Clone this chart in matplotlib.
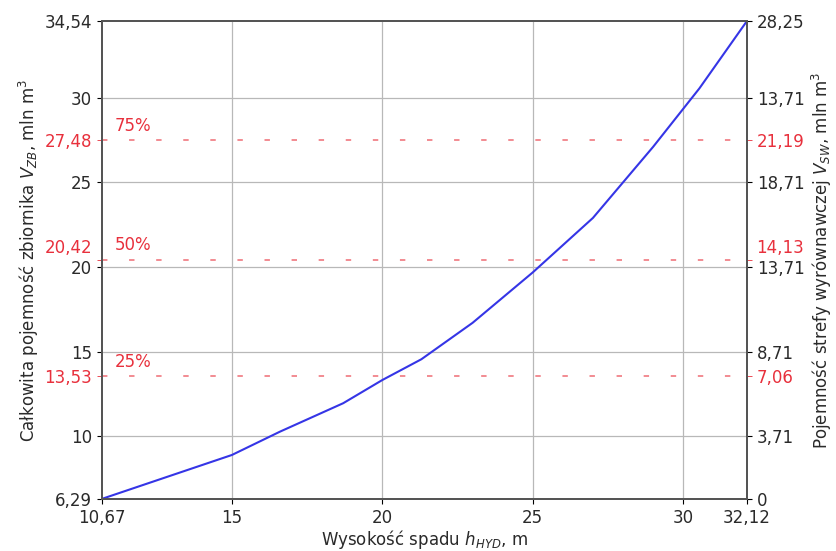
import matplotlib
matplotlib.use("Agg")
import matplotlib.pyplot as plt
import matplotlib.transforms as mtransforms

# Curve: head vs. total reservoir volume
h_hyd = [10.67, 15.0, 16.6, 18.7, 20.0, 21.3, 23.0, 25.0, 27.0, 29.0, 30.54, 32.12]
v_zb = [6.29, 8.89, 10.27, 11.95, 13.32, 14.55, 16.7, 19.68, 22.9, 27.1, 30.56, 34.54]

# Axis ticks
x_ticks = [10.67, 15, 20, 25, 30, 32.12]
x_labels = ["10,67", "15", "20", "25", "30", "32,12"]
y_ticks = [6.29, 10, 15, 20, 25, 30, 34.54]
y_labels = ["6,29", "10", "15", "20", "25", "30", "34,54"]
y_right_labels = ["0", "3,71", "8,71", "13,71", "18,71", "13,71", "28,25"]

# Percentage levels
pct_values = [13.53, 20.42, 27.48]
pct_left_labels = ["13,53", "20,42", "27,48"]
pct_right_labels = ["7,06", "14,13", "21,19"]
pct_names = ["25%", "50%", "75%"]

RED = "#e8303c"
TXT = "#2a2a2a"
FS = 12

plt.rcParams["text.color"] = TXT
plt.rcParams["xtick.labelcolor"] = TXT
plt.rcParams["ytick.labelcolor"] = TXT
plt.rcParams["axes.labelcolor"] = TXT

fig = plt.figure(figsize=(8.36, 5.51), dpi=100)
ax = fig.add_axes([0.1215, 0.0944, 0.772, 0.8675])

ax.plot(h_hyd, v_zb, color="#3535e6", lw=1.5, zorder=3)

for v in pct_values:
    ax.axhline(v, color=RED, lw=1.3, alpha=0.6, dashes=(3, 12), zorder=2)

ax.set_xlim(10.67, 32.12)
ax.set_ylim(6.29, 34.54)

ax.set_xticks(x_ticks)
ax.set_xticklabels(x_labels, fontsize=FS)
ax.set_yticks(y_ticks)
ax.set_yticklabels(y_labels, fontsize=FS)
ax.set_yticks(pct_values, minor=True)
ax.set_yticklabels(pct_left_labels, minor=True, fontsize=FS, color=RED)
ax.tick_params(axis="y", which="minor", length=3.5, color=RED)

# gridlines only on the inner ticks
for x in x_ticks[1:-1]:
    ax.axvline(x, color="#b8b8b8", lw=0.9, zorder=1)
for y in y_ticks[1:-1]:
    ax.axhline(y, color="#b8b8b8", lw=0.9, zorder=1)

for s in ax.spines.values():
    s.set_color("#555555")
    s.set_linewidth(1.4)

ax.set_xlabel("Wysokość spadu $h_{HYD}$, m", fontsize=FS, labelpad=1)
ax.set_ylabel("Całkowita pojemność zbiornika $V_{ZB}$, mln m$^3$", fontsize=FS, labelpad=2)

for v, name in zip(pct_values, pct_names):
    ax.annotate(name, xy=(11.1, v), xytext=(0, 4), textcoords="offset points",
                color=RED, fontsize=FS, va="bottom", ha="left")

ax2 = ax.twinx()
ax2.set_ylim(ax.get_ylim())
ax2.set_yticks(y_ticks)
ax2.set_yticklabels(y_right_labels, fontsize=FS)
ax2.set_yticks(pct_values, minor=True)
ax2.set_yticklabels(pct_right_labels, minor=True, fontsize=FS, color=RED)
ax2.tick_params(axis="y", which="minor", length=3.5, color=RED)
ax2.set_ylabel("Pojemność strefy wyrównawczej $V_{SW}$, mln m$^3$", fontsize=FS, labelpad=4)
for s in ax2.spines.values():
    s.set_color("#555555")
    s.set_linewidth(1.4)

# lift the 50% labels above the "20" / "13,71" tick labels
shift = mtransforms.ScaledTranslation(0, 10 / 72, fig.dpi_scale_trans)
for a in (ax, ax2):
    for lab, v in zip(a.yaxis.get_minorticklabels(), pct_values):
        if v == 20.42:
            lab.set_transform(lab.get_transform() + shift)

fig.savefig("out.png", dpi=100)
